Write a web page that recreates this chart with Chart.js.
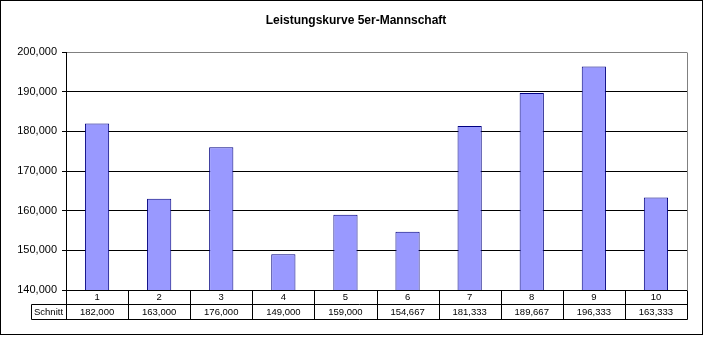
<!DOCTYPE html>
<html>
<head>
<meta charset="utf-8">
<script src="https://cdn.jsdelivr.net/npm/chart.js@4/dist/chart.umd.min.js"></script>
<style>
  html, body { margin: 0; padding: 0; background: #fff; }
  canvas { display: block; }
</style>
</head>
<body>
<canvas id="leistung" width="704" height="337"></canvas>
<script>
const TITLE = 'Leistungskurve 5er-Mannschaft'
const categories = ['1', '2', '3', '4', '5', '6', '7', '8', '9', '10']
const rowLabel = 'Schnitt'
const schnitt = [182000, 163000, 176000, 149000, 159000, 154667, 181333, 189667, 196333, 163333]
const Y_MIN = 140000
const Y_MAX = 200000
const Y_STEP = 10000

const FONT = "'Liberation Sans', Arial, sans-serif"
const fmt = (v) => Math.round(v).toLocaleString('en-US')

// title, outer frame, gray plot border on the right and the data table under the bars
const tablePlugin = {
  id: 'dataTable',
  beforeDatasetsDraw(chart) {
    const { ctx, chartArea: a } = chart
    ctx.save()
    ctx.strokeStyle = '#808080'
    ctx.lineWidth = 1
    ctx.beginPath()
    const xr = Math.round(a.right) + 0.5
    ctx.moveTo(xr, Math.round(a.top) + 0.5)
    ctx.lineTo(xr, Math.round(a.bottom) + 0.5)
    ctx.stroke()
    ctx.restore()
  },
  afterDraw(chart) {
    const { ctx, chartArea: a, scales: { x } } = chart
    const px = (v) => Math.round(v) + 0.5
    const top = Math.round(a.bottom)
    const mid = top + 14
    const bot = mid + 15
    const headLeft = 31
    const colW = (a.right - a.left) / categories.length

    ctx.save()
    // title sits centred over the whole sheet, not over the plot
    ctx.fillStyle = '#000'
    ctx.textAlign = 'center'
    ctx.textBaseline = 'alphabetic'
    ctx.font = 'bold 12px ' + FONT
    ctx.fillText(TITLE, 356, 24)

    ctx.strokeStyle = '#000'
    ctx.lineWidth = 1
    ctx.beginPath()
    ctx.moveTo(px(headLeft), px(mid)); ctx.lineTo(px(a.right), px(mid))
    ctx.moveTo(px(headLeft), px(bot)); ctx.lineTo(px(a.right), px(bot))
    ctx.moveTo(px(headLeft), px(mid)); ctx.lineTo(px(headLeft), px(bot))
    for (let i = 0; i <= categories.length; i++) {
      const xx = px(a.left + i * colW)
      ctx.moveTo(xx, px(top)); ctx.lineTo(xx, px(bot))
    }
    ctx.stroke()

    ctx.textBaseline = 'middle'
    ctx.font = '9.5px ' + FONT
    categories.forEach((c, i) => {
      const cx = x.getPixelForValue(i)
      ctx.fillText(c, cx, (top + mid) / 2 + 0.5)
      ctx.fillText(fmt(schnitt[i]), cx, (mid + bot) / 2 + 0.5)
    })
    ctx.fillText(rowLabel, (headLeft + a.left) / 2, (mid + bot) / 2 + 0.5)

    // chart frame
    ctx.strokeRect(0.5, 0.5, 702, 334)
    ctx.restore()
  },
}

new Chart('leistung', {
  type: 'bar',
  data: {
    labels: categories,
    datasets: [
      {
        label: rowLabel,
        data: schnitt,
        backgroundColor: '#9999FF',
        borderColor: '#000080',
        borderWidth: 1,
        borderSkipped: false,
        barPercentage: 0.39,
        categoryPercentage: 1,
      },
    ],
  },
  options: {
    responsive: false,
    devicePixelRatio: 1,
    animation: false,
    layout: {
      padding: { left: 0, right: 17, top: 52, bottom: 47 },
    },
    plugins: {
      legend: { display: false },
      tooltip: { enabled: false },
      title: { display: false },
    },
    scales: {
      x: {
        display: false,
      },
      y: {
        min: Y_MIN,
        max: Y_MAX,
        afterFit(scale) {
          scale.width = 66
        },
        ticks: {
          stepSize: Y_STEP,
          color: '#000',
          padding: 5,
          font: { family: FONT, size: 11 },
          callback: (v) => fmt(v),
        },
        grid: {
          color: (c) => (c.tick && c.tick.value === Y_MAX ? '#808080' : '#000'),
          tickColor: '#000',
          tickLength: 4,
          lineWidth: 1,
        },
        border: { display: true, color: '#000', width: 1 },
      },
    },
  },
  plugins: [tablePlugin],
})
</script>
</body>
</html>
